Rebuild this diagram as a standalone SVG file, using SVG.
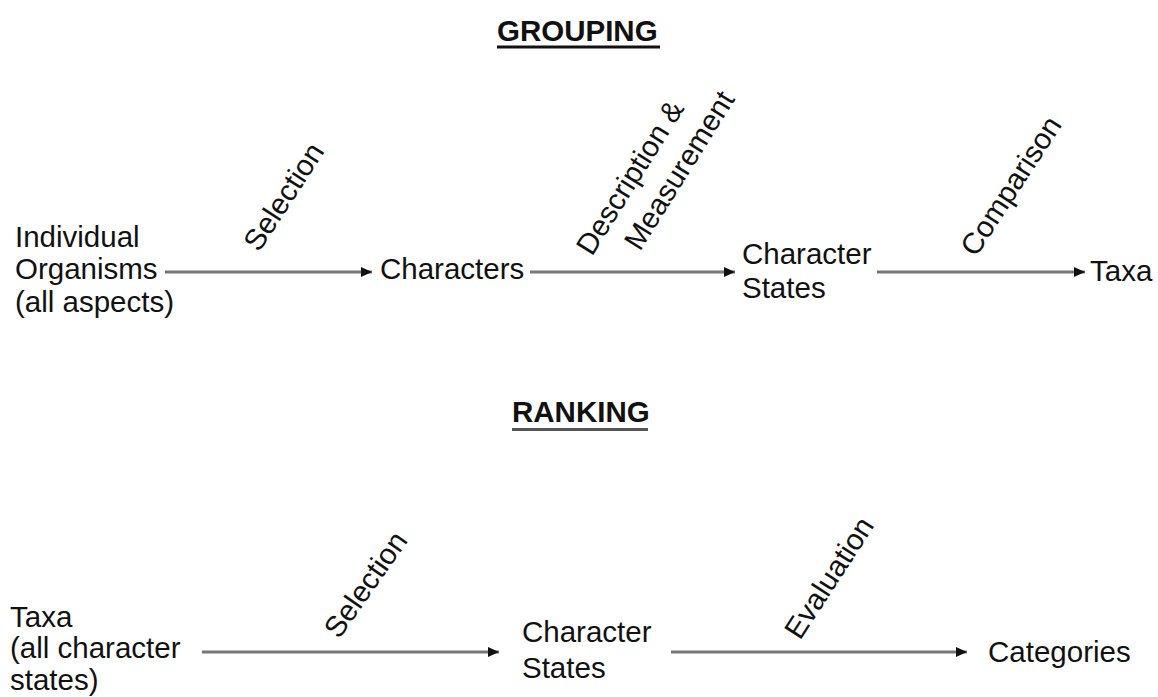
<svg xmlns="http://www.w3.org/2000/svg" width="1158" height="697" viewBox="0 0 1158 697">
<defs>
<style>
text{font-family:"Liberation Sans",Arial,sans-serif;font-size:29.5px;fill:#111}
.h{font-weight:bold;font-size:29.5px}
.conn line{stroke:#777;stroke-width:3}
.ul{stroke-width:3}
</style>
<marker id="ah" markerUnits="userSpaceOnUse" markerWidth="12" markerHeight="12" refX="11" refY="6" orient="auto">
<path d="M0,1 L11,6 L0,11 Z" fill="#111"/>
</marker>
</defs>
<rect width="1158" height="697" fill="#fff"/>
<g id="title-grouping">
<text class="h" x="497" y="41">GROUPING</text>
<line class="ul" x1="497" y1="47" x2="660" y2="47" stroke="#111"/>
</g>
<g id="title-ranking">
<text class="h" x="512" y="422">RANKING</text>
<line class="ul" x1="512" y1="429.5" x2="648" y2="429.5" stroke="#555"/>
</g>
<g id="n-individual">
<text x="15" y="247">Individual</text>
<text x="15" y="279">Organisms</text>
<text x="15" y="312">(all aspects)</text>
</g>
<g id="n-characters"><text x="380" y="279">Characters</text></g>
<g id="n-charstates1">
<text x="742" y="264">Character</text>
<text x="742" y="298">States</text>
</g>
<g id="n-taxa1"><text x="1090" y="281">Taxa</text></g>
<g id="n-taxa2">
<text x="10" y="627">Taxa</text>
<text x="10" y="658">(all character</text>
<text x="10" y="690">states)</text>
</g>
<g id="n-charstates2">
<text x="522" y="642">Character</text>
<text x="522" y="678">States</text>
</g>
<g id="n-categories"><text x="988" y="662">Categories</text></g>
<g id="connectors" class="conn">
<line x1="165" y1="272" x2="372" y2="272" marker-end="url(#ah)"/>
<line x1="530" y1="272" x2="735" y2="272" marker-end="url(#ah)"/>
<line x1="877" y1="272" x2="1085" y2="272" marker-end="url(#ah)"/>
<line x1="202" y1="652" x2="499" y2="652" marker-end="url(#ah)"/>
<line x1="671" y1="652" x2="967" y2="652" marker-end="url(#ah)"/>
<text transform="translate(259,253) rotate(-57)">Selection</text>
<text transform="translate(592,257) rotate(-58)">Description &amp;</text>
<text transform="translate(640,252) rotate(-58)">Measurement</text>
<text transform="translate(976,258) rotate(-57)">Comparison</text>
<text transform="translate(339,640) rotate(-55)">Selection</text>
<text transform="translate(800,641) rotate(-57)">Evaluation</text>
</g>
</svg>
